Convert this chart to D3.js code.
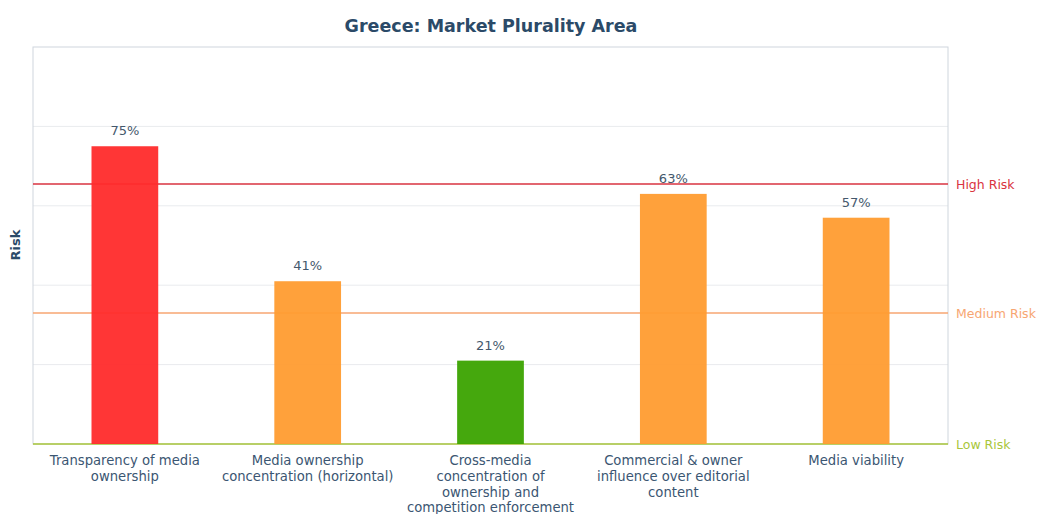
<!DOCTYPE html>
<html>
<head>
<meta charset="utf-8">
<script src="https://cdn.jsdelivr.net/npm/d3@7"></script>
<style>
  body { margin: 0; background: #fff; font-family: "DejaVu Sans", sans-serif; }
</style>
</head>
<body>
<script>
// chart data
var categories = [
  ["Transparency of media", "ownership"],
  ["Media ownership", "concentration (horizontal)"],
  ["Cross-media", "concentration of", "ownership and", "competition enforcement"],
  ["Commercial & owner", "influence over editorial", "content"],
  ["Media viability"]
];
var values = [75, 41, 21, 63, 57];
var barColors = ["#ff2b2b", "#ff9c30", "#3ba300", "#ff9c30", "#ff9c30"];
var thresholdNames = ["High Risk", "Medium Risk", "Low Risk"];
var thresholdValues = [65.5, 33, 0];
var thresholdColors = ["#d93340", "#f7a672", "#a9c63a"];
var gridTicks = [20, 40, 60, 80];

var W = 1042, H = 514;
var plotL = 33, plotR = 948, plotT = 47, plotB = 444;

var svg = d3.select("body").append("svg")
    .attr("width", W)
    .attr("height", H);

var x = d3.scaleBand()
    .domain(d3.range(values.length))
    .range([plotL, plotR])
    .paddingInner(0.635)
    .paddingOuter(0.32);

var y = d3.scaleLinear()
    .domain([0, 100])
    .range([plotB, plotT]);

// title
svg.append("text")
    .attr("x", 491)
    .attr("y", 32)
    .attr("text-anchor", "middle")
    .style("font-weight", "bold")
    .style("font-size", "17.5px")
    .style("fill", "#2b4a68")
    .text("Greece: Market Plurality Area");

// y title
svg.append("text")
    .attr("transform", "translate(20,245) rotate(-90)")
    .attr("text-anchor", "middle")
    .style("font-weight", "bold")
    .style("font-size", "13px")
    .style("fill", "#2b4a68")
    .text("Risk");

// grid
svg.append("g").selectAll("line")
    .data(gridTicks)
    .join("line")
    .attr("x1", plotL).attr("x2", plotR)
    .attr("y1", d => y(d)).attr("y2", d => y(d))
    .attr("stroke", "#e9ebee")
    .attr("stroke-width", 1);

// frame
svg.append("rect")
    .attr("x", plotL).attr("y", plotT)
    .attr("width", plotR - plotL).attr("height", plotB - plotT)
    .attr("fill", "none")
    .attr("stroke", "#cfd6dd")
    .attr("stroke-width", 1);

// threshold lines
svg.append("g").selectAll("line")
    .data(thresholdValues)
    .join("line")
    .attr("x1", plotL).attr("x2", plotR)
    .attr("y1", d => y(d)).attr("y2", d => y(d))
    .attr("stroke", (d, i) => thresholdColors[i])
    .attr("stroke-width", 1.5);

svg.append("g").selectAll("text")
    .data(thresholdValues)
    .join("text")
    .attr("x", plotR + 8)
    .attr("y", d => y(d) + 5)
    .style("font-size", "12.5px")
    .style("fill", (d, i) => thresholdColors[i])
    .text((d, i) => thresholdNames[i]);

// bars
svg.append("g").selectAll("rect")
    .data(values)
    .join("rect")
    .attr("x", (d, i) => x(i))
    .attr("y", d => y(d))
    .attr("width", x.bandwidth())
    .attr("height", d => y(0) - y(d))
    .attr("fill", (d, i) => barColors[i])
    .attr("fill-opacity", 0.95);

// value labels
svg.append("g").selectAll("text")
    .data(values)
    .join("text")
    .attr("x", (d, i) => x(i) + x.bandwidth() / 2)
    .attr("y", d => y(d) - 11)
    .attr("text-anchor", "middle")
    .style("font-size", "13px")
    .style("fill", "#44586c")
    .text(d => d + "%");

// category labels
var cat = svg.append("g").selectAll("text")
    .data(categories)
    .join("text")
    .attr("x", (d, i) => x(i) + x.bandwidth() / 2)
    .attr("y", 465)
    .attr("text-anchor", "middle")
    .style("font-size", "13.2px")
    .style("fill", "#3b5672");

cat.selectAll("tspan")
    .data(d => d)
    .join("tspan")
    .attr("x", function () { return d3.select(this.parentNode).attr("x"); })
    .attr("dy", (d, i) => i === 0 ? 0 : 15.8)
    .text(d => d);
</script>
</body>
</html>
